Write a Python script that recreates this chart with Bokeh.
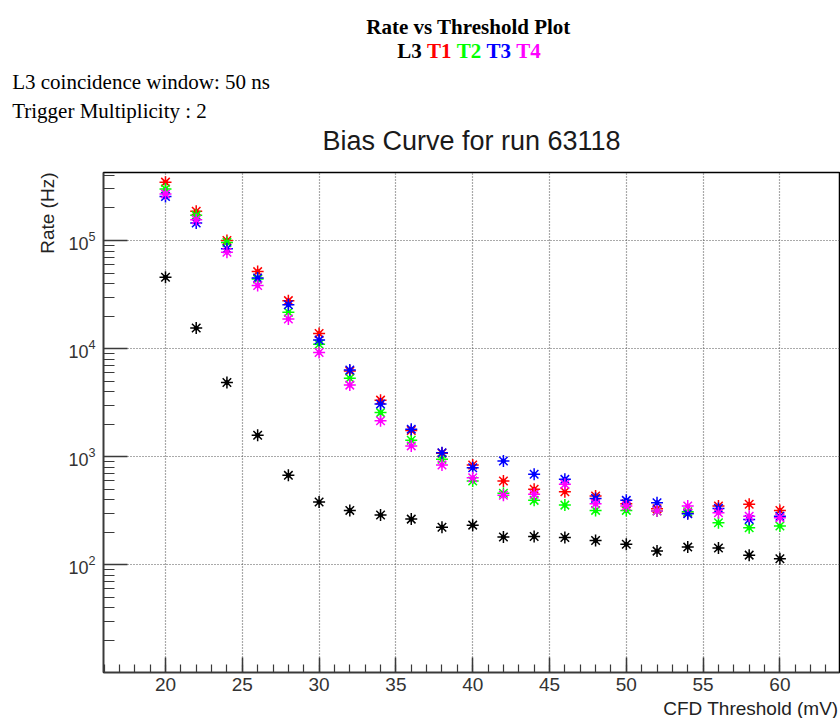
from bokeh.plotting import figure
from bokeh.layouts import column
from bokeh.models import Range1d, FixedTicker, SingleIntervalTicker, Title
from bokeh.core.properties import value
from bokeh.embed import file_html
from bokeh.resources import INLINE

# ---------------- data ----------------
thresholds = [20, 22, 24, 26, 28, 30, 32, 34, 36, 38, 40,
              42, 44, 46, 48, 50, 52, 54, 56, 58, 60]

rate_L3 = [45700, 15500, 4860, 1580, 673, 381, 319, 289, 265, 223, 233,
           181, 183, 179, 168, 155, 134, 146, 143, 123, 114]
rate_T1 = [347000, 187000, 100000, 51600, 27800, 13800, 6200, 3340, 1750, 1080, 840,
           597, 500, 475, 433, 367, 330, 300, 350, 363, 319]
rate_T2 = [300000, 171000, 96000, 44000, 21700, 11000, 5330, 2560, 1420, 950, 597,
           460, 395, 357, 319, 319, 315, 310, 245, 220, 229]
rate_T3 = [255000, 145000, 84000, 45100, 25500, 12000, 6340, 3070, 1800, 1090, 792,
           914, 689, 618, 412, 395, 376, 297, 333, 263, 282]
rate_T4 = [270000, 156000, 78000, 38300, 18800, 9220, 4600, 2150, 1260, 840, 640,
           440, 449, 556, 367, 350, 315, 350, 303, 282, 273]

series_names = ["L3", "T1", "T2", "T3", "T4"]
series_values = [rate_L3, rate_T1, rate_T2, rate_T3, rate_T4]
series_colors = ["#000000", "#ff0000", "#00ff00", "#0000ff", "#ff00ff"]

title_text = "Rate vs Threshold Plot"
info_lines = ["L3 coincidence window: 50 ns", "Trigger Multiplicity : 2"]
plot_title = "Bias Curve for run 63118"
x_label = "CFD Threshold (mV)"
y_label = "Rate (Hz)"

x_major_interval = 5
y_major_ticks = [1e2, 1e3, 1e4, 1e5]
y_minor_ticks = [m * 10 ** e for e in range(1, 6) for m in range(2, 10)]

W = 840
HH = 164   # header height
FH = 19    # footer height
MH = 718 - HH - FH


def no_align(fig):
    if "frame_align" in fig.properties():
        fig.frame_align = False


# ---------------- header ----------------
header = figure(width=W, height=HH, x_range=Range1d(0, W), y_range=Range1d(HH, 0),
                x_axis_type=None, y_axis_type=None, toolbar_location=None,
                output_backend="svg", min_border=0, outline_line_color=None)
no_align(header)
header.text(x=[468], y=[26], text=[title_text], text_font=value("Liberation Serif"),
            text_font_style="bold", text_font_size="21px", text_align="center",
            text_baseline="alphabetic", text_color="#000000")
word_step = 29.75
header.text(x=[396.7 + i * word_step for i in range(len(series_names))],
            y=[50] * len(series_names), text=series_names,
            text_color=series_colors, text_font=value("Liberation Serif"),
            text_font_style="bold", text_font_size="21px", text_align="left",
            text_baseline="alphabetic")
header.text(x=[11.7, 11.7], y=[81, 110], text=info_lines, text_font=value("Liberation Serif"),
            text_font_size="21px", text_align="left", text_baseline="alphabetic",
            text_color="#000000")
header.text(x=[471], y=[140], text=[plot_title], text_font=value("Liberation Sans"),
            text_font_size="27px", text_align="center", text_baseline="alphabetic",
            text_color="#1a1a1a")

# ---------------- main plot ----------------
p = figure(width=W, height=MH, x_range=Range1d(15.964, 63.88),
           y_range=Range1d(10.1, 4.26e5), y_axis_type="log",
           toolbar_location=None, output_backend="svg",
           min_border_left=103, min_border_right=1, min_border_top=8, min_border_bottom=27)
p.outline_line_color = "#000000"
p.outline_line_width = 1.5
p.background_fill_color = "white"
p.border_fill_color = "white"

xt = SingleIntervalTicker(interval=x_major_interval, num_minor_ticks=5)
p.xaxis.ticker = xt
p.xgrid.ticker = xt
yt = FixedTicker(ticks=y_major_ticks, minor_ticks=y_minor_ticks)
p.yaxis.ticker = yt
p.ygrid.ticker = yt

axis_col = "#3a3a3a"
for ax in (p.xaxis, p.yaxis):
    ax.axis_line_color = axis_col
    ax.axis_line_width = 1.5
    ax.major_tick_line_color = axis_col
    ax.minor_tick_line_color = axis_col
    ax.major_tick_line_width = 1.5
    ax.minor_tick_line_width = 1.2
    ax.major_tick_out = 0
    ax.minor_tick_out = 0
    ax.major_label_text_font = "Liberation Sans"
    ax.major_label_text_color = "#333333"

p.xaxis.major_tick_in = 15
p.xaxis.minor_tick_in = 8
p.xaxis.major_label_text_font_size = "19px"
p.xaxis.major_label_standoff = 5

p.yaxis.major_tick_in = 24
p.yaxis.minor_tick_in = 11
p.yaxis.major_label_text_font_size = "18px"
p.yaxis.major_label_standoff = 8

ytitle = Title(text=y_label, align="right", text_font="Liberation Sans",
               text_font_style="normal", text_font_size="19px", text_color="#222222",
               standoff=16)
p.add_layout(ytitle, "left")

for g in (p.xgrid, p.ygrid):
    g.grid_line_color = "#555555"
    g.grid_line_dash = "1 2"
    g.grid_line_width = 1.2

for vals, col in zip(series_values, series_colors):
    p.scatter(x=thresholds, y=vals, marker="asterisk", size=12,
              line_color=col, line_width=1.5)
    p.scatter(x=thresholds, y=vals, marker="circle", size=4,
              fill_color=col, line_color=col)

# ---------------- footer (x axis title) ----------------
footer = figure(width=W, height=FH, x_range=Range1d(0, W), y_range=Range1d(FH, 0),
                x_axis_type=None, y_axis_type=None, toolbar_location=None,
                output_backend="svg", min_border=0, outline_line_color=None)
no_align(footer)
footer.text(x=[838], y=[9], text=[x_label], text_font=value("Liberation Sans"),
            text_font_size="19px", text_align="right", text_baseline="alphabetic",
            text_color="#222222")

layout = column(header, p, footer, spacing=0)
open("out.html", "w").write(file_html(layout, INLINE))
